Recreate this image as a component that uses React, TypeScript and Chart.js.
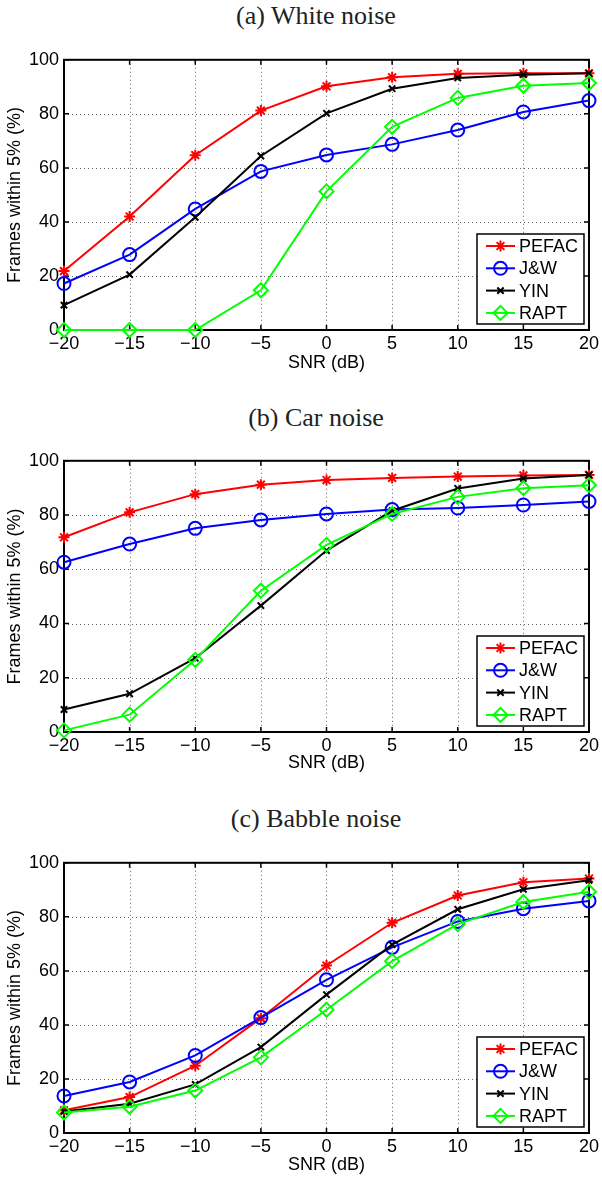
import React, { useEffect, useRef } from "react";
import { Chart, registerables } from "chart.js";
import { drawPoint } from "chart.js/helpers";

Chart.register(...registerables);

// ---------------- data ----------------
const snrDb = [-20, -15, -10, -5, 0, 5, 10, 15, 20];
const xTickValues = [-20, -15, -10, -5, 0, 5, 10, 15, 20];
const yTickValues = [0, 20, 40, 60, 80, 100];
const methodLabels = ["PEFAC", "J&W", "YIN", "RAPT"];
const panelTitles = ["(a) White noise", "(b) Car noise", "(c) Babble noise"];
const xAxisTitle = "SNR (dB)";
const yAxisTitle = "Frames within 5% (%)";

const whitePEFAC = [21.8, 42, 64.7, 81.2, 90.2, 93.5, 94.8, 95, 95];
const whiteJW = [17.2, 27.9, 44.8, 58.7, 64.8, 68.7, 74, 80.7, 84.9];
const whiteYIN = [9.2, 20.5, 41.7, 64.4, 80.2, 89.3, 93.3, 94.5, 95];
const whiteRAPT = [0, 0, 0, 14.7, 51.3, 75.2, 85.9, 90.4, 91.4];

const carPEFAC = [71.8, 81, 87.7, 91.2, 92.9, 93.7, 94.2, 94.6, 94.8];
const carJW = [62.6, 69.3, 75.1, 78.2, 80.4, 82, 82.6, 83.7, 85];
const carYIN = [8.3, 14.1, 27.2, 46.6, 66.9, 81.6, 89.8, 93.5, 94.8];
const carRAPT = [0.6, 6.4, 26.6, 52.1, 69, 80.4, 86.7, 89.9, 91];

const babblePEFAC = [8.4, 13.3, 24.9, 42.5, 62, 77.8, 87.9, 92.8, 94.2];
const babbleJW = [13.7, 18.9, 28.7, 42.7, 56.7, 68.7, 78.3, 83, 85.9];
const babbleYIN = [8, 10.8, 18, 31.8, 51.2, 69.7, 82.8, 90.2, 93.5];
const babbleRAPT = [7.6, 9.7, 15.7, 28, 45.6, 63.6, 77.3, 85.5, 89.3];

// ---------------- styles ----------------
const seriesStyles = [
  { color: "#ff0000", pointStyle: "star", radius: 5.5, fill: "#ff0000" },
  { color: "#0000ff", pointStyle: "circle", radius: 6.5, fill: "rgba(0,0,0,0)" },
  { color: "#000000", pointStyle: "crossRot", radius: 4.5, fill: "#000000" },
  { color: "#00ff00", pointStyle: "rectRot", radius: 7, fill: "rgba(0,0,0,0)" },
];

const SANS = "'Liberation Sans', Arial, Helvetica, sans-serif";
const SERIF = "'Liberation Serif', 'Times New Roman', serif";
const FONT_SIZE = 18;

const panelLayouts = [
  { titleTop: 1, canvasTop: 44, padTop: 15, plotH: 271, bottomSpace: 44 },
  { titleTop: 403, canvasTop: 445, padTop: 15, plotH: 272, bottomSpace: 42 },
  { titleTop: 804, canvasTop: 847, padTop: 15, plotH: 271, bottomSpace: 43 },
];

const fmtTick = (v: number) => (v < 0 ? "\u2212" + Math.abs(v) : String(v));

const matlabAxes = {
  id: "matlabAxes",
  beforeDatasetsDraw(chart: any) {
    const { ctx, chartArea, scales } = chart;
    const { left, right, top, bottom } = chartArea;
    const xs = scales.x;
    const ys = scales.y;
    ctx.save();
    ctx.strokeStyle = "rgba(0,0,0,0.6)";
    ctx.lineWidth = 1;
    ctx.setLineDash([1, 3]);
    xTickValues.forEach((v) => {
      const px = Math.round(xs.getPixelForValue(v)) + 0.5;
      if (px > left + 2 && px < right - 2) {
        ctx.beginPath();
        ctx.moveTo(px, top);
        ctx.lineTo(px, bottom);
        ctx.stroke();
      }
    });
    yTickValues.forEach((v) => {
      const py = Math.round(ys.getPixelForValue(v)) + 0.5;
      if (py > top + 2 && py < bottom - 2) {
        ctx.beginPath();
        ctx.moveTo(left, py);
        ctx.lineTo(right, py);
        ctx.stroke();
      }
    });
    ctx.setLineDash([]);
    ctx.strokeStyle = "#000";
    ctx.lineWidth = 1.5;
    const tl = 5;
    xTickValues.forEach((v) => {
      const px = xs.getPixelForValue(v);
      ctx.beginPath();
      ctx.moveTo(px, bottom);
      ctx.lineTo(px, bottom - tl);
      ctx.moveTo(px, top);
      ctx.lineTo(px, top + tl);
      ctx.stroke();
    });
    yTickValues.forEach((v) => {
      const py = ys.getPixelForValue(v);
      ctx.beginPath();
      ctx.moveTo(left, py);
      ctx.lineTo(left + tl, py);
      ctx.moveTo(right, py);
      ctx.lineTo(right - tl, py);
      ctx.stroke();
    });
    ctx.lineWidth = 2;
    ctx.strokeRect(left, top, right - left, bottom - top);
    ctx.restore();
  },
};

const matlabLegend = {
  id: "matlabLegend",
  afterDraw(chart: any) {
    const { ctx, chartArea } = chart;
    const boxW = 107;
    const boxH = 90;
    const x0 = chartArea.right - 5 - boxW;
    const y0 = chartArea.bottom - 6 - boxH;
    ctx.save();
    ctx.fillStyle = "#fff";
    ctx.fillRect(x0, y0, boxW, boxH);
    ctx.strokeStyle = "#000";
    ctx.lineWidth = 1.5;
    ctx.strokeRect(x0, y0, boxW, boxH);
    chart.data.datasets.forEach((ds: any, i: number) => {
      const cy = y0 + 12 + i * 22.3;
      ctx.strokeStyle = ds.borderColor;
      ctx.lineWidth = 2;
      ctx.beginPath();
      ctx.moveTo(x0 + 9, cy);
      ctx.lineTo(x0 + 38, cy);
      ctx.stroke();
      ctx.fillStyle = ds.pointBackgroundColor;
      ctx.strokeStyle = ds.pointBorderColor;
      ctx.lineWidth = 2;
      drawPoint(
        ctx,
        { pointStyle: ds.pointStyle, radius: ds.pointRadius, borderWidth: 2, rotation: 0 } as any,
        x0 + 23.5,
        cy
      );
      ctx.fillStyle = "#000";
      ctx.font = `${FONT_SIZE}px ${SANS}`;
      ctx.textBaseline = "middle";
      ctx.textAlign = "left";
      ctx.fillText(ds.label, x0 + 42, cy + 1);
    });
    ctx.restore();
  },
};

function Panel({ index, series }: { index: number; series: number[][] }) {
  const ref = useRef<HTMLCanvasElement | null>(null);
  const lay = panelLayouts[index];
  const H = lay.padTop + lay.plotH + lay.bottomSpace;

  useEffect(() => {
    if (!ref.current) return;
    const chart = new Chart(ref.current, {
      type: "line",
      data: {
        datasets: series.map((vals, i) => ({
          label: methodLabels[i],
          data: snrDb.map((x, j) => ({ x, y: vals[j] })),
          borderColor: seriesStyles[i].color,
          backgroundColor: seriesStyles[i].color,
          pointStyle: seriesStyles[i].pointStyle as any,
          pointRadius: seriesStyles[i].radius,
          pointBorderWidth: 2,
          pointBackgroundColor: seriesStyles[i].fill,
          pointBorderColor: seriesStyles[i].color,
          borderWidth: 2,
          tension: 0,
          clip: false as any,
          order: 4 - i,
        })),
      },
      options: {
        responsive: false,
        animation: false,
        events: [],
        layout: { padding: { top: lay.padTop, right: 10, left: 0, bottom: 0 } },
        plugins: {
          legend: { display: false },
          tooltip: { enabled: false },
          title: { display: false },
        },
        scales: {
          x: {
            type: "linear",
            min: -20,
            max: 20,
            afterBuildTicks: (s: any) => {
              s.ticks = xTickValues.map((v) => ({ value: v }));
            },
            afterFit: (s: any) => {
              s.height = lay.bottomSpace;
            },
            grid: { display: false, drawTicks: false },
            border: { display: false },
            ticks: {
              padding: 3,
              color: "#000",
              font: { family: SANS, size: FONT_SIZE },
              maxRotation: 0,
              autoSkip: false,
              callback: (v: any) => fmtTick(Number(v)),
            },
            title: {
              display: true,
              text: xAxisTitle,
              color: "#000",
              font: { family: SANS, size: FONT_SIZE },
              padding: 0,
            },
          },
          y: {
            type: "linear",
            min: 0,
            max: 100,
            afterBuildTicks: (s: any) => {
              s.ticks = yTickValues.map((v) => ({ value: v }));
            },
            afterFit: (s: any) => {
              s.width = 64;
            },
            grid: { display: false, drawTicks: false },
            border: { display: false },
            ticks: {
              padding: 5,
              color: "#000",
              font: { family: SANS, size: FONT_SIZE },
              autoSkip: false,
              callback: (v: any) => fmtTick(Number(v)),
            },
            title: {
              display: true,
              text: yAxisTitle,
              color: "#000",
              font: { family: SANS, size: FONT_SIZE },
              padding: { top: 4, bottom: 0 },
            },
          },
        },
      } as any,
      plugins: [matlabAxes, matlabLegend],
    });
    return () => chart.destroy();
  }, []);

  return (
    <>
      <div
        style={{
          position: "absolute",
          left: 0,
          width: 632,
          top: lay.titleTop,
          height: 30,
          lineHeight: "30px",
          textAlign: "center",
          fontFamily: SERIF,
          fontSize: 26,
          color: "#222",
          whiteSpace: "nowrap",
        }}
      >
        {panelTitles[index]}
      </div>
      <canvas
        ref={ref}
        width={602}
        height={H}
        style={{ position: "absolute", left: 0, top: lay.canvasTop, width: 602, height: H }}
      />
    </>
  );
}

export default function App() {
  return (
    <div
      style={{
        position: "absolute",
        left: 0,
        top: 0,
        width: 602,
        height: 1178,
        background: "#fff",
        overflow: "hidden",
      }}
    >
      <Panel index={0} series={[whitePEFAC, whiteJW, whiteYIN, whiteRAPT]} />
      <Panel index={1} series={[carPEFAC, carJW, carYIN, carRAPT]} />
      <Panel index={2} series={[babblePEFAC, babbleJW, babbleYIN, babbleRAPT]} />
    </div>
  );
}
